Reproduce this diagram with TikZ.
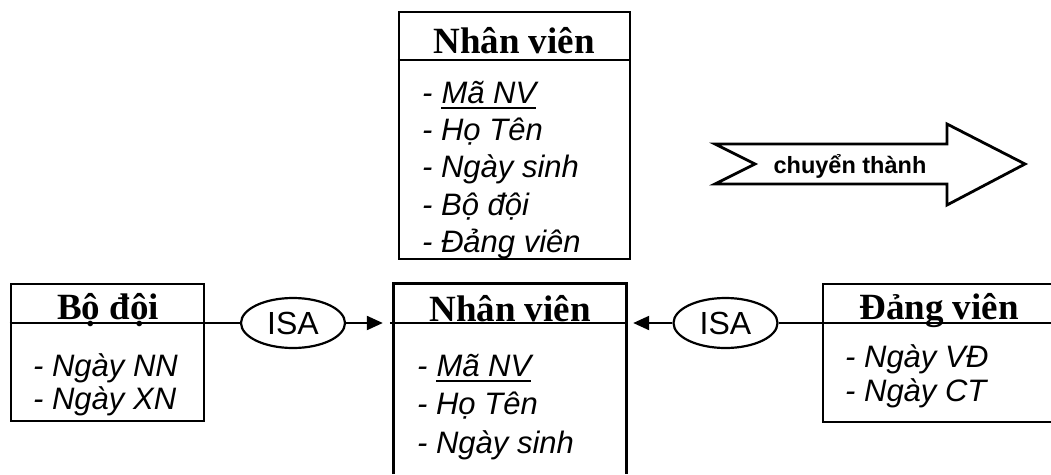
\documentclass[tikz,border=0pt]{standalone}
\usepackage{fontspec}
\setmainfont{Liberation Sans}
\newfontfamily\tnr{Liberation Serif}
\usetikzlibrary{shapes.geometric,arrows.meta}
\begin{document}
\begin{tikzpicture}[x=1pt,y=-1pt,
  box/.style={draw,line width=2.8pt,inner sep=0pt},
  blank/.style={inner sep=0pt},
  head/.style={font=\tnr\bfseries\fontsize{37}{40}\selectfont,inner sep=0pt,anchor=base},
  attr/.style={font=\itshape\fontsize{31}{36}\selectfont,inner sep=0pt,anchor=base west},
  sep/.style={line width=2.2pt},
  isa/.style={draw,ellipse,line width=2.2pt,minimum width=104pt,minimum height=50pt,inner sep=0pt,font=\fontsize{32}{36}\selectfont},
  conn/.style={line width=2.2pt},
  tip/.style={-{Triangle[length=16pt,width=14pt]}},
  big/.style={line width=2.8pt,line join=miter}]
\useasboundingbox (0,0) rectangle (1051,474);

% ---- top box: Nhan vien ----
\node[box,minimum width=231pt,minimum height=247pt] (nvt) at (514.5,135.5) {};
\draw[sep] (nvt.west |- 0,60) -- (nvt.east |- 0,60);
\node[head] (nvth) at (514,53) {Nhân viên};
\node[attr] (t1) at (422,103) {-~\hbox{}};
\node[attr] (t1u) at (t1.base east) {Mã NV};
\draw[line width=2.2pt] ([yshift=-5pt]t1u.base west) -- ([yshift=-5pt]t1u.base east);
\node[attr] (t2) at (422,140) {-~Họ Tên};
\node[attr] (t3) at (422,177) {-~Ngày sinh};
\node[attr] (t4) at (422,215) {-~Bộ đội};
\node[attr] (t5) at (422,252) {-~Đảng viên};

% ---- big arrow ----
\draw[big] (715,144) -- (947,144) -- (947,124) -- (1025,164) -- (947,205) -- (947,184) -- (715,184) -- (755,164) -- cycle;
\node[font=\bfseries\fontsize{23.5}{26}\selectfont,inner sep=0pt,anchor=base] (ct) at (850,173) {chuyển thành};

% ---- Bo doi box ----
\node[box,minimum width=193pt,minimum height=137pt] (bd) at (107.5,352.5) {};
\node[head] (bdh) at (108,319) {Bộ đội};
\node[attr] (b1) at (33,376) {-~Ngày NN};
\node[attr] (b2) at (33,409) {-~Ngày XN};

% ---- bottom Nhan vien box (open at bottom) ----
\node[blank,minimum width=232pt,minimum height=190pt] (nvb) at (510,379) {};
\draw[line width=2.8pt,line join=miter] (nvb.south west) -- (nvb.north west) -- (nvb.north east) -- (nvb.south east);
\draw[sep] ([xshift=-4pt]nvb.west |- 0,323) -- (nvb.east |- 0,323);
\node[head] (nvbh) at (510,321) {Nhân viên};
\node[attr] (n1) at (417,376) {-~\hbox{}};
\node[attr] (n1u) at (n1.base east) {Mã NV};
\draw[line width=2.2pt] ([yshift=-5pt]n1u.base west) -- ([yshift=-5pt]n1u.base east);
\node[attr] (n2) at (417,414) {-~Họ Tên};
\node[attr] (n3) at (417,453) {-~Ngày sinh};

% ---- Dang vien box (cut at right) ----
\node[box,minimum width=247pt,minimum height=138pt] (dv) at (946.5,353) {};
\node[head] (dvh) at (939,319) {Đảng viên};
\node[attr] (d1) at (845,367) {-~Ngày VĐ};
\node[attr] (d2) at (845,401) {-~Ngày CT};

% ---- ISA ----
\node[isa] (isa1) at (293,323) {ISA};
\node[isa] (isa2) at (725.5,323) {ISA};
\draw[conn] (bd.west |- isa1.west) -- (isa1.west);
\draw[conn,tip,shorten >=11pt] (isa1.east) -- (nvb.west |- isa1.east);
\draw[conn,tip,shorten >=7pt] (isa2.west) -- (nvb.east |- isa2.west);
\draw[conn] (isa2.east) -- (dv.east |- isa2.east);
\end{tikzpicture}
\end{document}
